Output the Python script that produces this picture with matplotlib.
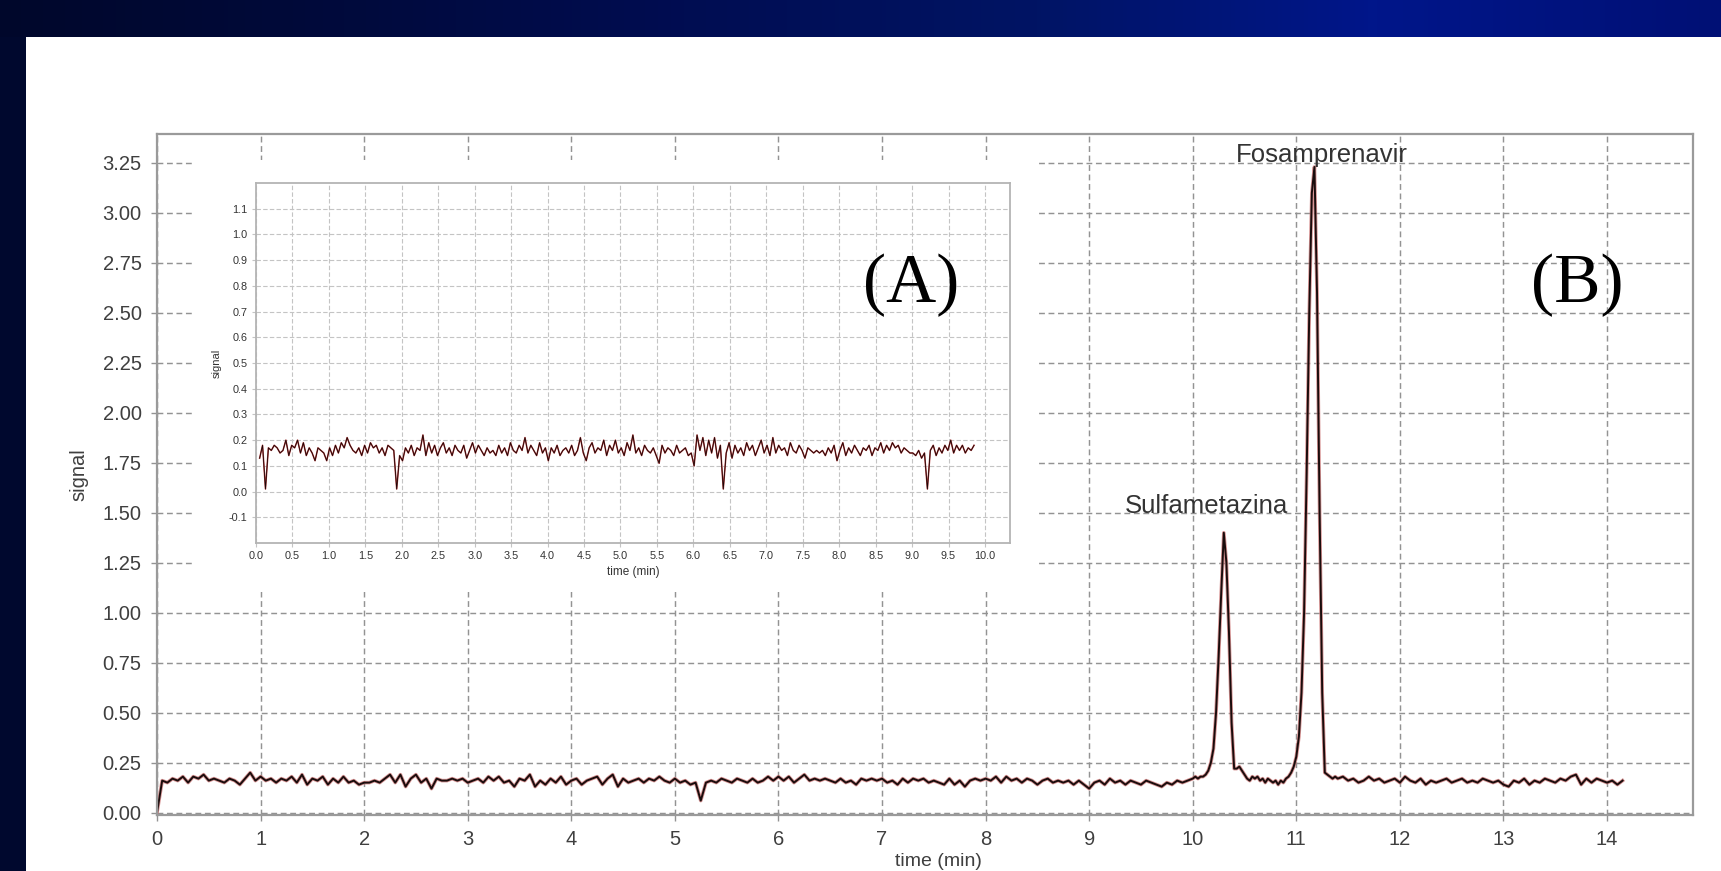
import numpy as np
import matplotlib
matplotlib.use("Agg")
import matplotlib.pyplot as plt
from matplotlib.patches import Rectangle
from matplotlib.colors import LinearSegmentedColormap
from matplotlib.ticker import FormatStrFormatter

# ---------------- data ----------------
# main chromatogram (B): baseline 0.00 - 9.95 min, step 0.05
main_base_vals = [
    0.00, 0.16, 0.15, 0.17, 0.16, 0.18, 0.15, 0.18, 0.17, 0.19,
    0.16, 0.17, 0.16, 0.15, 0.17, 0.16, 0.14, 0.17, 0.20, 0.16,
    0.18, 0.16, 0.17, 0.15, 0.17, 0.16, 0.18, 0.15, 0.19, 0.14,
    0.17, 0.16, 0.18, 0.14, 0.17, 0.15, 0.18, 0.15, 0.16, 0.14,
    0.15, 0.15, 0.16, 0.15, 0.17, 0.19, 0.15, 0.19, 0.13, 0.17,
    0.19, 0.15, 0.17, 0.12, 0.17, 0.16, 0.16, 0.17, 0.16, 0.17,
    0.15, 0.16, 0.17, 0.15, 0.18, 0.16, 0.18, 0.15, 0.16, 0.13,
    0.17, 0.16, 0.19, 0.13, 0.16, 0.14, 0.17, 0.15, 0.18, 0.14,
    0.16, 0.17, 0.14, 0.16, 0.17, 0.18, 0.14, 0.17, 0.19, 0.13,
    0.17, 0.15, 0.16, 0.17, 0.15, 0.17, 0.16, 0.18, 0.16, 0.15,
    0.17, 0.15, 0.16, 0.14, 0.15, 0.06, 0.15, 0.16, 0.15, 0.17,
    0.16, 0.15, 0.17, 0.16, 0.15, 0.17, 0.15, 0.16, 0.18, 0.16,
    0.18, 0.16, 0.18, 0.15, 0.17, 0.19, 0.16, 0.17, 0.16, 0.17,
    0.16, 0.15, 0.17, 0.15, 0.16, 0.14, 0.17, 0.16, 0.17, 0.16,
    0.17, 0.15, 0.16, 0.14, 0.17, 0.15, 0.17, 0.16, 0.17, 0.15,
    0.16, 0.15, 0.14, 0.17, 0.14, 0.16, 0.13, 0.16, 0.17, 0.16,
    0.17, 0.16, 0.18, 0.15, 0.18, 0.16, 0.17, 0.15, 0.17, 0.16,
    0.14, 0.16, 0.17, 0.15, 0.16, 0.15, 0.16, 0.14, 0.16, 0.14,
    0.12, 0.15, 0.16, 0.14, 0.17, 0.15, 0.16, 0.14, 0.16, 0.15,
    0.14, 0.16, 0.15, 0.14, 0.13, 0.15, 0.14, 0.16, 0.15, 0.16,
]
main_base_start, main_base_step = 0.0, 0.05

# peak region 10.000 - 11.375 min, step 0.025
peak_vals = [
    0.17, 0.18, 0.17, 0.18, 0.18, 0.19, 0.21, 0.25, 0.32, 0.50,
    0.78, 1.10, 1.40, 1.25, 0.90, 0.45, 0.22, 0.22, 0.23, 0.21,
    0.19, 0.17, 0.16, 0.18, 0.17, 0.18, 0.16, 0.17, 0.15, 0.17,
    0.16, 0.15, 0.16, 0.14, 0.16, 0.15, 0.17, 0.18, 0.20, 0.23,
    0.28, 0.38, 0.60, 1.00, 1.70, 2.50, 3.10, 3.23, 2.60, 1.50,
    0.60, 0.20, 0.19, 0.18, 0.17, 0.18,
]
peak_start, peak_step = 10.0, 0.025

# tail 11.40 - 14.15 min, step 0.05
tail_vals = [
    0.17, 0.18, 0.16, 0.17, 0.15, 0.16, 0.18, 0.16, 0.17, 0.15,
    0.16, 0.17, 0.15, 0.18, 0.16, 0.15, 0.17, 0.14, 0.16, 0.15,
    0.16, 0.17, 0.15, 0.16, 0.17, 0.15, 0.16, 0.15, 0.17, 0.16,
    0.15, 0.16, 0.14, 0.13, 0.16, 0.15, 0.17, 0.14, 0.16, 0.15,
    0.17, 0.16, 0.15, 0.17, 0.16, 0.18, 0.19, 0.14, 0.17, 0.15,
    0.17, 0.16, 0.15, 0.16, 0.14, 0.16,
]
tail_start, tail_step = 11.40, 0.05

# inset chromatogram (A): 0.05 - 9.85 min, step 0.04
inset_vals = [
    0.13, 0.18, 0.01, 0.17, 0.16, 0.18, 0.17, 0.15, 0.16, 0.20,
    0.14, 0.18, 0.17, 0.20, 0.15, 0.19, 0.14, 0.17, 0.15, 0.12,
    0.17, 0.16, 0.15, 0.12, 0.17, 0.14, 0.18, 0.15, 0.19, 0.17,
    0.21, 0.18, 0.16, 0.15, 0.17, 0.14, 0.18, 0.15, 0.19, 0.17,
    0.18, 0.15, 0.17, 0.14, 0.18, 0.17, 0.16, 0.01, 0.14, 0.12,
    0.17, 0.15, 0.18, 0.14, 0.17, 0.16, 0.22, 0.14, 0.19, 0.15,
    0.18, 0.14, 0.17, 0.19, 0.15, 0.17, 0.14, 0.18, 0.16, 0.15,
    0.18, 0.13, 0.16, 0.19, 0.15, 0.18, 0.16, 0.14, 0.17, 0.15,
    0.16, 0.14, 0.18, 0.15, 0.17, 0.14, 0.19, 0.16, 0.15, 0.18,
    0.16, 0.21, 0.15, 0.18, 0.16, 0.14, 0.19, 0.15, 0.17, 0.12,
    0.17, 0.15, 0.18, 0.14, 0.16, 0.17, 0.15, 0.18, 0.14, 0.16,
    0.21, 0.15, 0.12, 0.17, 0.19, 0.15, 0.17, 0.16, 0.20, 0.14,
    0.18, 0.16, 0.20, 0.15, 0.17, 0.14, 0.19, 0.16, 0.22, 0.15,
    0.17, 0.14, 0.18, 0.16, 0.15, 0.17, 0.14, 0.11, 0.18, 0.15,
    0.17, 0.16, 0.14, 0.18, 0.15, 0.16, 0.17, 0.14, 0.15, 0.10,
    0.22, 0.16, 0.21, 0.14, 0.20, 0.15, 0.21, 0.13, 0.18, 0.01,
    0.15, 0.19, 0.13, 0.18, 0.15, 0.17, 0.14, 0.19, 0.16, 0.18,
    0.14, 0.17, 0.20, 0.15, 0.18, 0.14, 0.21, 0.15, 0.18, 0.16,
    0.17, 0.14, 0.19, 0.16, 0.15, 0.18, 0.16, 0.13, 0.17, 0.16,
    0.15, 0.16, 0.15, 0.16, 0.14, 0.17, 0.15, 0.18, 0.12, 0.16,
    0.19, 0.14, 0.17, 0.15, 0.18, 0.16, 0.14, 0.17, 0.16, 0.18,
    0.14, 0.17, 0.16, 0.19, 0.15, 0.18, 0.16, 0.19, 0.17, 0.18,
    0.15, 0.17, 0.16, 0.15, 0.15, 0.14, 0.16, 0.13, 0.15, 0.01,
    0.16, 0.18, 0.14, 0.17, 0.15, 0.18, 0.16, 0.20, 0.15, 0.18,
    0.16, 0.18, 0.15, 0.17, 0.16, 0.18,
]
inset_start, inset_step = 0.05, 0.04

main_xticks = list(range(0, 15))
main_yticks = [0.00, 0.25, 0.50, 0.75, 1.00, 1.25, 1.50, 1.75, 2.00, 2.25, 2.50, 2.75, 3.00, 3.25]
inset_xticks = [0.0, 0.5, 1.0, 1.5, 2.0, 2.5, 3.0, 3.5, 4.0, 4.5, 5.0, 5.5, 6.0, 6.5, 7.0,
                7.5, 8.0, 8.5, 9.0, 9.5, 10.0]
inset_yticks = [-0.1, 0.0, 0.1, 0.2, 0.3, 0.4, 0.5, 0.6, 0.7, 0.8, 0.9, 1.0, 1.1]
peak_labels = ["Sulfametazina", "Fosamprenavir"]
peak_label_x = [10.135, 11.25]
peak_label_y = [1.50, 3.255]

# ---------------- assemble series ----------------
t_base = main_base_start + main_base_step * np.arange(len(main_base_vals))
t_peak = peak_start + peak_step * np.arange(len(peak_vals))
t_tail = tail_start + tail_step * np.arange(len(tail_vals))
main_t = np.concatenate([t_base, t_peak, t_tail])
main_y = np.concatenate([main_base_vals, peak_vals, tail_vals])
inset_t = inset_start + inset_step * np.arange(len(inset_vals))

# ---------------- figure ----------------
W, H = 1721, 871
fig = plt.figure(figsize=(W / 100, H / 100), dpi=100)
fig.patch.set_facecolor("white")
plt.rcParams["font.family"] = ["Liberation Sans", "DejaVu Sans"]

def fx(px):
    return px / W

def fy(py):
    return 1 - py / H

txt_col = "#3f3f3f"

# main axes
ax = fig.add_axes([fx(157), fy(815), fx(1693) - fx(157), fy(134) - fy(815)], zorder=0)
ax.plot(main_t, main_y, color="#c97070", lw=2.6, alpha=0.75, solid_joinstyle="round")
ax.plot(main_t, main_y, color="#1a0c0c", lw=1.4, solid_joinstyle="round")
ax.set_xlim(0, 14.83)
ax.set_ylim(-0.012, 3.395)
ax.set_xticks(main_xticks)
ax.set_yticks(main_yticks)
ax.yaxis.set_major_formatter(FormatStrFormatter("%.2f"))
ax.grid(True, color="#939393", lw=1.05, linestyle=(0, (4, 2.5)))
ax.tick_params(axis="both", labelsize=14.5, colors="#939393", labelcolor=txt_col,
               length=4, width=1, pad=7)
for s in ax.spines.values():
    s.set_color("#9a9a9a")
    s.set_linewidth(1.6)
ax.set_ylabel("signal", fontsize=14.5, color=txt_col, labelpad=10)
fig.text(fx(938), fy(870), "time (min)", ha="center", va="bottom", fontsize=14, color=txt_col)

for lbl, lx, ly in zip(peak_labels, peak_label_x, peak_label_y):
    ax.text(lx, ly, lbl, ha="center", va="baseline", fontsize=18.5, color="#333333")

# white panel behind inset
fig.add_artist(Rectangle((fx(192), fy(592)), fx(1037) - fx(192), fy(160) - fy(592),
                         transform=fig.transFigure, facecolor="white", edgecolor="none",
                         zorder=1))

# inset axes
ai = fig.add_axes([fx(256), fy(543), fx(1010) - fx(256), fy(183) - fy(543)], zorder=2)
ai.plot(inset_t, inset_vals, color="#b83c3c", lw=1.1)
ai.plot(inset_t, inset_vals, color="#1a0808", lw=0.6)
ai.set_xlim(0, 10.343)
ai.set_ylim(-0.2, 1.2)
ai.set_xticks(inset_xticks)
ai.set_yticks(inset_yticks)
ai.xaxis.set_major_formatter(FormatStrFormatter("%.1f"))
ai.yaxis.set_major_formatter(FormatStrFormatter("%.1f"))
ai.grid(True, color="#c4c4c4", lw=0.8, linestyle=(0, (4, 2)))
ai.tick_params(axis="both", labelsize=7.8, colors="#c4c4c4", labelcolor="#333333",
               length=3, width=0.8, pad=3)
for s in ai.spines.values():
    s.set_color("#b4b4b4")
    s.set_linewidth(1.3)
ai.set_ylabel("signal", fontsize=8, color="#333333", labelpad=5)
ai.set_xlabel("time (min)", fontsize=8.5, color="#333333", labelpad=3)

# panel letters
fig.text(fx(911), fy(302), "(A)", ha="center", va="baseline", fontsize=50,
         family=["Liberation Serif", "DejaVu Serif"], color="black", zorder=5)
fig.text(fx(1577), fy(302), "(B)", ha="center", va="baseline", fontsize=50,
         family=["Liberation Serif", "DejaVu Serif"], color="black", zorder=5)

# slide decoration: top gradient band and left band
band = fig.add_axes([0, fy(37), 1, 37 / H], zorder=3)
cmap = LinearSegmentedColormap.from_list(
    "slide", ["#00072b", "#000a3c", "#000d52", "#001464", "#00168a", "#001075"])
band.imshow(np.linspace(0, 1, 400)[None, :], aspect="auto", cmap=cmap,
            extent=[0, 1, 0, 1])
band.set_axis_off()
fig.add_artist(Rectangle((0, 0), fx(26), 1, transform=fig.transFigure,
                         facecolor="#00082e", edgecolor="none", zorder=3))

fig.savefig("out.png", dpi=100, facecolor="white")
